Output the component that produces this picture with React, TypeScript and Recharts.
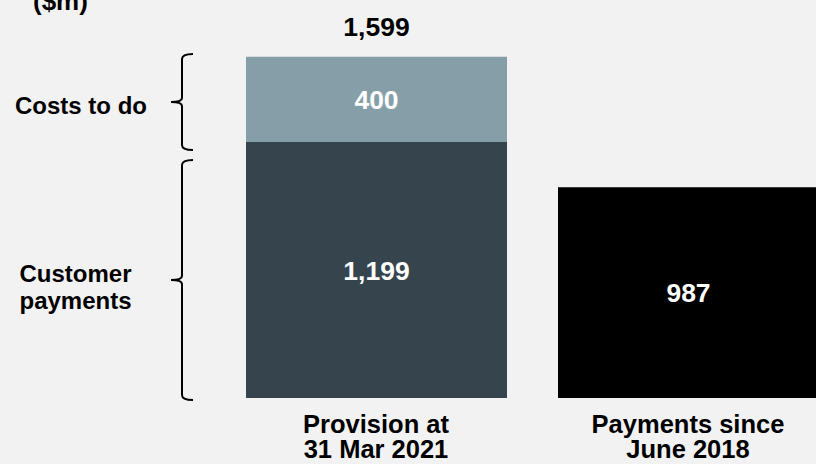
import { BarChart, Bar, XAxis, YAxis, LabelList, ReferenceArea } from 'recharts'

const categories = ['Provision at|31 Mar 2021', 'Payments since|June 2018']
const customerPayments = [1199, null]
const costsToDo = [400, null]
const paymentsSince = [null, 987]
const totals = [1599, null]

// brace spans, in $m, as drawn on the left
const braces = [
  { lines: ['Costs to do'], from: 1162, to: 1612 },
  { lines: ['Customer', 'payments'], from: -9, to: 1115 },
]

const FONT = '"Liberation Sans", Arial, Helvetica, sans-serif'

const data = categories.map((name, i) => ({
  name,
  customer: customerPayments[i],
  costs: costsToDo[i],
  payments: paymentsSince[i],
  total: totals[i],
}))

const fmt = (v: any) => (v == null ? '' : Number(v).toLocaleString('en-US'))

const ValueLabel = (props: any) => {
  const { x, y, width, height, value } = props
  if (value == null || !height) return null
  return (
    <text x={x + width / 2} y={y + height / 2 + 9.5} textAnchor="middle" fill="#ffffff"
      fontSize={26.5} fontWeight="bold" fontFamily={FONT}>
      {fmt(value)}
    </text>
  )
}

const TotalLabel = (props: any) => {
  const { x, y, width, value } = props
  if (value == null) return null
  return (
    <text x={x + width / 2} y={y - 21} textAnchor="middle" fill="#000"
      fontSize={26.5} fontWeight="bold" fontFamily={FONT}>
      {fmt(value)}
    </text>
  )
}

const CategoryTick = (props: any) => {
  const { x, y, payload } = props
  const lines = String(payload.value).split('|')
  return (
    <g>
      {lines.map((l, i) => (
        <text key={i} x={x} y={y + 34.5 + i * 25.5} textAnchor="middle" fill="#000"
          fontSize={25.5} fontWeight="bold" fontFamily={FONT}>
          {l}
        </text>
      ))}
    </g>
  )
}

const makeBrace = (lines: string[], labelX: number, labelDy: number, lineGap: number) => (props: any) => {
  const { x, y, height } = props
  const top = y
  const bottom = y + height
  const mid = (top + bottom) / 2
  const bx = x - 38
  const d = `M ${bx + 11} ${top} Q ${bx} ${top} ${bx} ${top + 5} L ${bx} ${mid - 4} Q ${bx} ${mid} ${bx - 11} ${mid} ` +
    `Q ${bx} ${mid} ${bx} ${mid + 4} L ${bx} ${bottom - 5} Q ${bx} ${bottom} ${bx + 11} ${bottom}`
  return (
    <g>
      <path d={d} fill="none" stroke="#000" strokeWidth={2} />
      {lines.map((l, i) => (
        <text key={i} x={labelX} y={mid + labelDy + i * lineGap} textAnchor="middle" fill="#000"
          fontSize={24} fontWeight="bold" fontFamily={FONT}>
          {l}
        </text>
      ))}
    </g>
  )
}

const braceLayout = [
  { labelX: 81, dy: 12, gap: 27 },
  { labelX: 75.5, dy: 2, gap: 27 },
]

export default function App() {
  return (
    <div style={{ position: 'absolute', left: 0, top: 0, width: 816, height: 464, overflow: 'hidden', background: '#f2f2f2' }}>
      <svg width={816} height={464} style={{ position: 'absolute', left: 0, top: 0 }}>
        <text x={33} y={10} fill="#000" fontSize={26} fontWeight="bold" fontFamily={FONT}>($m)</text>
      </svg>
      <div style={{ position: 'absolute', left: 0, top: 0 }}>
        <BarChart width={860} height={464} data={data} barSize={261}
          margin={{ top: 56.5, right: 16, bottom: 0, left: 220 }}>
          <XAxis dataKey="name" axisLine={false} tickLine={false} tickSize={0} tickMargin={0}
            height={66} interval={0} tick={<CategoryTick />} />
          <YAxis hide domain={[0, 1600]} />
          <Bar dataKey="customer" stackId="a" fill="#36454d" isAnimationActive={false}>
            <LabelList dataKey="customer" content={<ValueLabel />} />
          </Bar>
          <Bar dataKey="costs" stackId="a" fill="#869ea8" isAnimationActive={false}>
            <LabelList dataKey="costs" content={<ValueLabel />} />
            <LabelList dataKey="total" content={<TotalLabel />} />
          </Bar>
          <Bar dataKey="payments" stackId="a" fill="#000000" isAnimationActive={false}>
            <LabelList dataKey="payments" content={<ValueLabel />} />
          </Bar>
          {braces.map((b, i) => (
            <ReferenceArea key={i} y1={b.from} y2={b.to} ifOverflow="visible"
              shape={makeBrace(b.lines, braceLayout[i].labelX, braceLayout[i].dy, braceLayout[i].gap)} />
          ))}
        </BarChart>
      </div>
    </div>
  )
}
